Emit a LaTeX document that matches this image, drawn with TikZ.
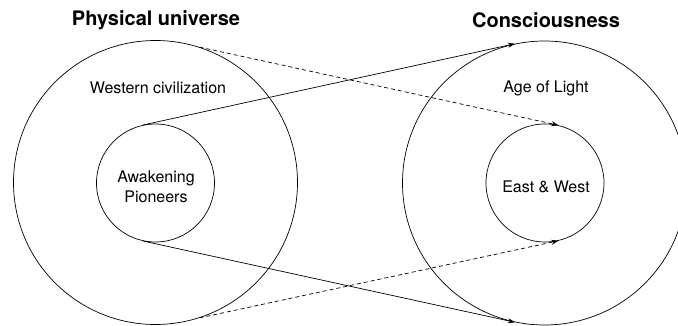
\documentclass[tikz,border=0pt]{standalone}
\usepackage{fontspec}
\setmainfont{TeX Gyre Heros}
\usetikzlibrary{arrows.meta}
\begin{document}
\begin{tikzpicture}[x=1pt,y=-1pt,
  ring/.style={circle,draw,line width=0.7pt,inner sep=0pt},
  big/.style={ring,minimum size=284pt},
  small/.style={ring,minimum size=118pt},
  lbl/.style={font=\fontsize{16}{20}\selectfont,inner sep=0pt,align=center},
  ttl/.style={font=\fontsize{20}{24}\selectfont\bfseries,inner sep=0pt},
  link/.style={line width=0.7pt,-{Stealth[length=7pt,width=5pt]}},
  dlink/.style={link,dash pattern=on 4pt off 3pt}]
\useasboundingbox (0,0) rectangle (678,326);
\node[big] (LO) at (155.5,182.5) {};
\node[small] (LI) at (155.5,183) {};
\node[big] (RO) at (544.5,183) {};
\node[small] (RI) at (545,183) {};
\node[lbl] (P1) at (156,187) {Awakening\\Pioneers};
\node[lbl] (P2) at (546,187) {East \& West};
\node[ttl] (T1) at (156,20) {Physical universe};
\node[ttl] (T2) at (546,20) {Consciousness};
\node[lbl] (L1) at (158,88) {Western civilization};
\node[lbl] (L2) at (546,88) {Age of Light};
\draw[link] (LI.102) -- (RO.102);
\draw[link] (LI.258) -- (RO.258);
\draw[dlink] (LO.72) -- (RI.77);
\draw[dlink] (LO.288) -- (RI.283);
\end{tikzpicture}
\end{document}
